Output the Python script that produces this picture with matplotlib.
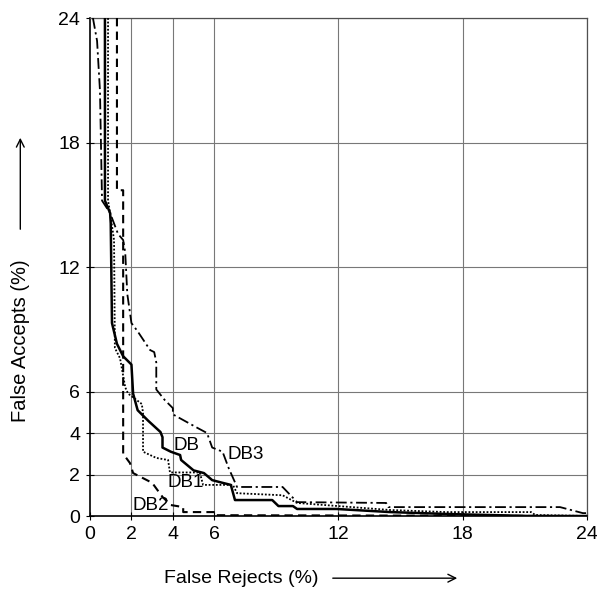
import matplotlib
matplotlib.use("Agg")
import matplotlib.pyplot as plt

plt.rcParams['font.family'] = ['Liberation Sans', 'DejaVu Sans']

# ---------------- curve data (false rejects %, false accepts %) ----------------
db_x = [0.72, 0.72, 0.97, 1.0, 1.06, 1.3, 1.6, 2.0, 2.08, 2.3, 2.8, 3.4, 3.5, 3.5,
        3.9, 4.35, 4.4, 5.0, 5.5, 5.9, 6.4, 6.8, 7.0, 8.8, 9.1, 9.8, 10.0, 11.9,
        14.5, 17.2, 21.3, 24.0]
db_y = [24.0, 15.2, 14.6, 14.1, 9.3, 8.3, 7.7, 7.3, 5.9, 5.1, 4.6, 4.05, 3.8, 3.3,
        3.1, 2.94, 2.7, 2.2, 2.07, 1.73, 1.6, 1.5, 0.77, 0.77, 0.48, 0.48, 0.34, 0.34,
        0.19, 0.1, 0.0, 0.0]

db1_x = [0.87, 0.87, 0.97, 1.16, 1.2, 1.45, 1.7, 1.84, 2.5, 2.56, 2.56, 3.2, 3.77,
         3.86, 5.3, 5.46, 6.9, 7.1, 9.3, 10.0, 14.5, 17.2, 21.3, 21.5, 24.0]
db1_y = [24.0, 15.2, 14.6, 13.3, 8.1, 7.6, 6.2, 5.9, 5.4, 4.96, 3.1, 2.8, 2.7,
         2.1, 2.1, 1.5, 1.5, 1.1, 1.0, 0.63, 0.29, 0.19, 0.19, 0.05, 0.0]

db2_x = [1.3, 1.3, 1.6, 1.6, 1.6, 1.93, 2.08, 3.0, 3.5, 3.9, 4.5, 4.5, 6.1, 6.1, 24.0]
db2_y = [24.0, 15.7, 15.7, 13.3, 3.0, 2.55, 2.07, 1.6, 0.92, 0.53, 0.43, 0.19, 0.19,
         0.04, 0.0]

db3_x = [0.14, 0.34, 0.48, 0.58, 0.97, 1.35, 1.6, 1.7, 1.8, 2.0, 2.3, 2.9, 3.1, 3.2,
         3.2, 3.6, 4.0, 4.0, 5.2, 5.65, 5.9, 6.4, 6.7, 7.1, 9.3, 10.0, 14.3, 14.4,
         22.7, 23.8, 24.0]
db3_y = [24.0, 22.9, 20.5, 15.2, 14.6, 13.6, 13.3, 12.7, 10.7, 9.3, 8.9, 8.0, 7.9,
         7.4, 6.1, 5.6, 5.2, 4.9, 4.24, 4.0, 3.3, 3.1, 2.3, 1.4, 1.4, 0.67, 0.63,
         0.43, 0.43, 0.14, 0.14]

ticks = [0, 2, 4, 6, 12, 18, 24]
labels = ['DB', 'DB1', 'DB2', 'DB3']
label_pos = [(4.64, 3.42), (4.64, 1.6), (2.95, 0.53), (7.5, 2.95)]

# ---------------- figure ----------------
fig = plt.figure(figsize=(5.97, 5.93), dpi=100)
ax = fig.add_axes([0.1508, 0.1298, 0.9832 - 0.1508, 0.9696 - 0.1298])

for t in ticks[1:]:
    ax.axvline(t, color='#787878', lw=0.8, zorder=1)
    ax.axhline(t, color='#787878', lw=0.8, zorder=1)

ax.plot(db_x, db_y, color='black', lw=1.8, zorder=3)
ax.plot(db1_x, db1_y, color='black', lw=1.3, linestyle=(0, (1, 1)), zorder=3)
ax.plot(db2_x, db2_y, color='black', lw=1.5, linestyle=(0, (4, 2.5)), zorder=3)
ax.plot(db3_x, db3_y, color='black', lw=1.3, linestyle=(0, (6, 2, 1.2, 2)), zorder=3)

for lab, (lx, ly) in zip(labels, label_pos):
    ax.text(lx, ly, lab, fontsize=13.5, ha='center', va='center', zorder=4)

ax.set_xlim(0, 24)
ax.set_ylim(0, 24)
ax.set_xticks(ticks)
ax.set_yticks(ticks)
ax.tick_params(direction='inout', length=6, labelsize=14, width=0.8, pad=4)
for s in ['top', 'right']:
    ax.spines[s].set_color('#505050')
    ax.spines[s].set_linewidth(0.9)
for s in ['left', 'bottom']:
    ax.spines[s].set_linewidth(1.2)

# axis labels with arrows
fig.text(0.404, 0.025, 'False Rejects (%)', fontsize=14, ha='center', va='center')
fig.text(0.034, 0.425, 'False Accepts (%)', fontsize=14.5, ha='center', va='center',
         rotation=90)
fig.add_artist(matplotlib.patches.FancyArrowPatch(
    (330 / 597, 0.025), (460 / 597, 0.025), transform=fig.transFigure,
    arrowstyle='->', mutation_scale=14, lw=1, color='black'))
fig.add_artist(matplotlib.patches.FancyArrowPatch(
    (0.034, 1 - 232 / 593), (0.034, 1 - 135 / 593), transform=fig.transFigure,
    arrowstyle='->', mutation_scale=14, lw=1, color='black'))

fig.savefig('out.png', dpi=100)
